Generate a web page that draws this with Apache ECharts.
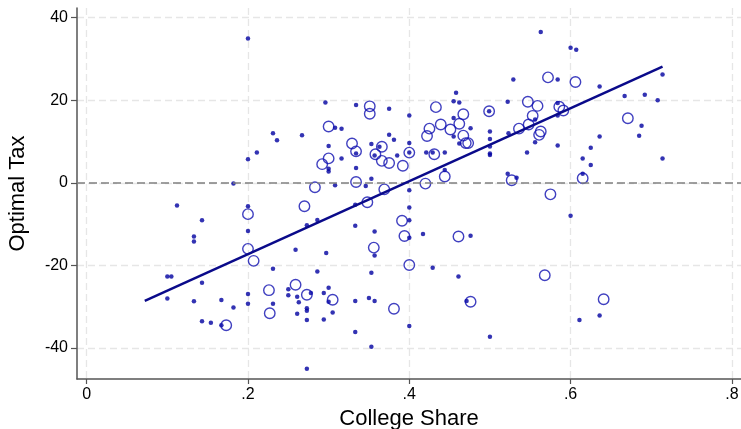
<!DOCTYPE html>
<html>
<head>
<meta charset="utf-8">
<script src="https://cdn.jsdelivr.net/npm/echarts@6/dist/echarts.min.js"></script>
<style>
  html, body { margin: 0; padding: 0; background: #fff; }
  #chart { width: 741px; height: 429px; }
</style>
</head>
<body>
<div id="chart"></div>
<script>
// small dots (x = college share, y = optimal tax)
var smallPts = [
  [.2,34.9],[.2,5.7],[.211,7.3],[.182,-0.2],[.112,-5.5],[.2,-5.7],[.143,-9.1],[.2,-11.7],
  [.133,-13.0],[.133,-14.2],[.1,-22.7],[.105,-22.7],[.143,-24.2],[.1,-28.0],[.133,-28.7],
  [.167,-28.4],[.182,-30.2],[.2,-26.9],[.2,-29.3],[.143,-33.5],[.154,-33.9],[.167,-34.5],
  [.259,-16.2],[.273,-10.3],[.286,-9.0],[.231,-20.8],[.286,-21.5],[.231,-29.3],[.25,-25.8],
  [.25,-27.2],[.261,-27.6],[.263,-28.9],[.278,-26.7],[.273,-30.4],[.273,-31.0],[.261,-31.7],
  [.273,-33.2],[.273,-45.0],[.297,-17.0],[.333,-10.4],[.333,-5.3],[.357,-11.8],[.357,-17.6],
  [.353,-21.8],[.4,-6.0],[.4,-9.1],[.4,-13.3],[.417,-12.4],[.429,-20.6],[.476,-12.8],
  [.461,-22.7],[.471,-28.6],[.5,-37.3],[.4,-34.7],[.353,-39.7],[.333,-36.1],[.333,-28.6],
  [.35,-27.9],[.357,-28.6],[.3,-25.4],[.294,-26.7],[.3,-28.8],[.305,-31.4],[.294,-33.1],
  [.296,19.4],[.334,18.8],[.375,17.9],[.4,16.3],[.231,12.0],[.236,10.3],[.267,11.5],
  [.308,13.3],[.316,13.1],[.3,8.9],[.334,7.1],[.3,3.4],[.3,2.7],[.316,5.9],[.334,3.6],
  [.353,9.4],[.363,8.7],[.357,6.6],[.375,11.6],[.381,10.4],[.385,6.6],[.4,7.3],[.4,9.6],
  [.308,-0.6],[.346,-0.8],[.353,1.0],[.4,-1.8],[.444,3.1],[.421,7.3],[.429,7.3],[.444,7.3],
  [.455,15.7],[.455,19.7],[.458,21.8],[.462,19.4],[.455,11.2],[.462,9.5],[.476,13.2],
  [.499,17.3],[.5,12.4],[.5,10.6],[.5,8.8],[.5,7.1],[.5,6.7],[.522,19.6],[.523,12.0],
  [.522,2.2],[.533,1.2],[.529,25.0],[.584,25.0],[.636,23.3],[.667,21.0],[.692,21.3],
  [.584,19.3],[.584,16.3],[.556,15.3],[.556,9.8],[.584,9.0],[.546,7.3],[.688,13.8],
  [.685,11.4],[.636,11.2],[.625,8.5],[.615,5.9],[.625,4.3],[.615,2.2],[.563,36.5],
  [.6,32.7],[.607,32.2],[.714,26.2],[.708,20.0],[.714,5.9],[.6,-8.0],[.611,-33.2],[.636,-32.1]
];

// hollow circles
var largePts = [
  [.2,-7.6],[.2,-16.0],[.207,-18.9],[.173,-34.5],[.27,-5.7],[.283,-1.1],[.226,-26.0],
  [.227,-31.6],[.259,-24.7],[.273,-27.1],[.305,-28.3],[.348,-4.7],[.356,-15.7],[.391,-9.2],
  [.394,-12.9],[.4,-19.9],[.461,-13.0],[.476,-28.8],[.381,-30.5],[.351,18.5],[.351,16.7],
  [.3,13.6],[.329,9.5],[.334,7.6],[.3,5.9],[.292,4.5],[.366,8.7],[.358,6.9],[.366,5.3],
  [.375,4.8],[.392,4.1],[.4,7.3],[.334,0.2],[.369,-1.6],[.42,-0.2],[.444,1.5],[.431,6.9],
  [.422,11.3],[.425,13.1],[.439,14.1],[.433,18.3],[.451,12.9],[.462,14.3],[.467,16.6],
  [.467,11.4],[.47,9.6],[.473,9.6],[.499,17.3],[.527,0.6],[.572,25.5],[.606,24.4],
  [.547,19.6],[.559,18.6],[.586,18.4],[.591,17.5],[.553,16.2],[.548,14.1],[.536,13.1],
  [.563,12.4],[.561,11.6],[.671,15.6],[.615,1.1],[.575,-2.8],[.568,-22.4],[.641,-28.2]
];

// fitted line end points
var fitX = [0.072, 0.714];
var fitY = [-28.6, 28.1];

var xTicks = [0, 0.2, 0.4, 0.6, 0.8];
var xTickLabels = ['0', '.2', '.4', '.6', '.8'];
var yTicks = [-40, -20, 0, 20, 40];

var chart = echarts.init(document.getElementById('chart'));

var fitData = [];
for (var i = 0; i < fitX.length; i++) {
    fitData.push([fitX[i], fitY[i]]);
}

var gridLine = { show: true, lineStyle: { color: '#e6e6e6', width: 1.3, type: [7, 4] } };
var font = 'Liberation Sans, Arial, sans-serif';

var option = {
    animation: false,
    backgroundColor: '#fff',
    grid: { left: 77, right: 0, top: 8, bottom: 50, containLabel: false, outerBoundsMode: 'none' },
    xAxis: {
        type: 'value',
        min: -0.012,
        max: 0.8113,
        name: 'College Share',
        nameLocation: 'middle',
        nameGap: 27,
        nameTextStyle: { fontSize: 22, color: '#000', fontFamily: font },
        axisLine: { show: true, onZero: false, lineStyle: { color: '#555', width: 1.5 } },
        axisTick: { show: true, length: 5, customValues: xTicks, lineStyle: { color: '#555', width: 1.2 } },
        axisLabel: {
            customValues: xTicks, margin: 8, fontSize: 16, color: '#000', fontFamily: font,
            formatter: function (v) {
                var k = xTicks.indexOf(Math.round(v * 10) / 10);
                return k >= 0 ? xTickLabels[k] : '';
            }
        },
        splitLine: gridLine
    },
    yAxis: {
        type: 'value',
        min: -47.5,
        max: 42.3,
        name: 'Optimal Tax',
        nameLocation: 'middle',
        nameGap: 48,
        nameTextStyle: { fontSize: 22, color: '#000', fontFamily: font },
        axisLine: { show: true, onZero: false, lineStyle: { color: '#555', width: 1.5 } },
        axisTick: { show: true, length: 6, customValues: yTicks, lineStyle: { color: '#555', width: 1.2 } },
        axisLabel: { customValues: yTicks, margin: 9, fontSize: 16, color: '#000', fontFamily: font },
        splitLine: gridLine
    },
    series: [
        {
            type: 'scatter',
            data: smallPts,
            symbol: 'circle',
            symbolSize: 4.5,
            itemStyle: { color: '#0000a0' },
            z: 3
        },
        {
            type: 'scatter',
            data: largePts,
            symbol: 'circle',
            symbolSize: 10.5,
            itemStyle: { color: 'rgba(0,0,0,0)', borderColor: '#1010b0', borderWidth: 1.4 },
            z: 4
        },
        {
            type: 'line',
            data: fitData,
            showSymbol: false,
            lineStyle: { color: '#0a0a8a', width: 2.5 },
            z: 5,
            markLine: {
                silent: true,
                symbol: 'none',
                label: { show: false },
                lineStyle: { color: '#808080', width: 1.5, type: [8, 4] },
                data: [{ yAxis: 0 }]
            }
        }
    ]
};
chart.setOption(option);
</script>
</body>
</html>
